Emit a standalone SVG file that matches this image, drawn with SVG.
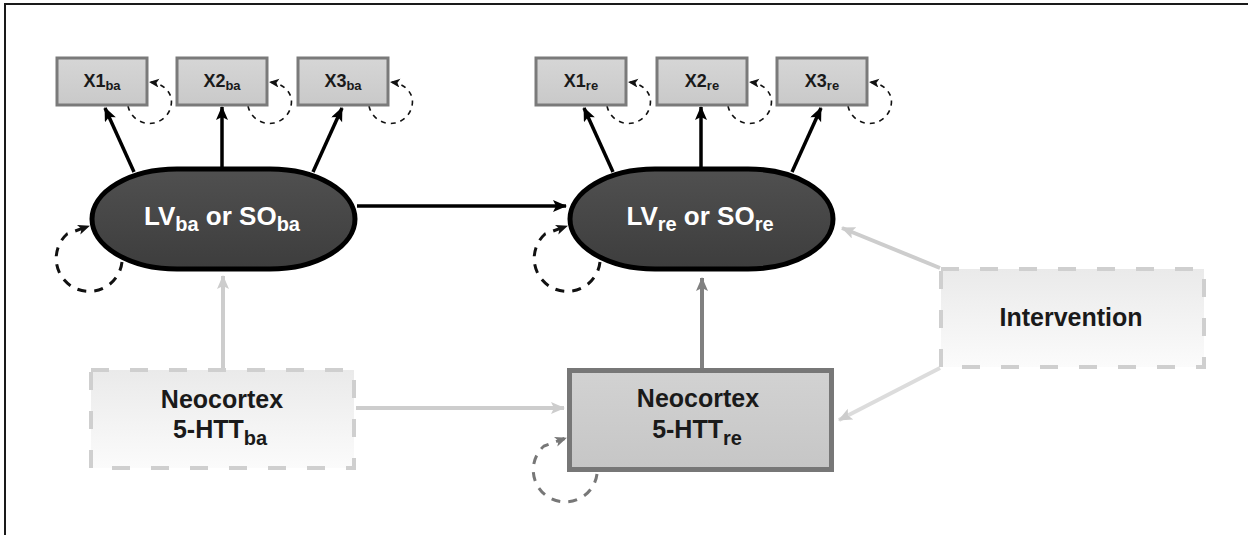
<svg xmlns="http://www.w3.org/2000/svg" width="1248" height="535" viewBox="0 0 1248 535">
<style>
text{font-family:"Liberation Sans",Arial,sans-serif;font-weight:bold;fill:#1a1a1a}
.xbox{fill:url(#gX);stroke:#7a7a7a;stroke-width:3}
.xt{font-size:18px}
.xs{font-size:13px}
.lv{fill:url(#gLV);stroke:#000;stroke-width:5}
.lvt{font-size:26px;fill:#fff}
.lvs{font-size:20px;fill:#fff}
.dbox{fill:url(#gD);stroke:#cfcfcf;stroke-width:4;stroke-dasharray:18 21}
.nt{font-size:25px}
.ns{font-size:20px}
.blk{stroke:#000;stroke-width:3.5;fill:none;marker-end:url(#aBlk)}
.lgt{stroke:#cdcdcd;stroke-width:4;fill:none;marker-end:url(#aLgt)}
.mid{stroke:#808080;stroke-width:4;fill:none;marker-end:url(#aMid)}
.loopS{stroke:#111;stroke-width:1.6;stroke-dasharray:5 5;fill:none;marker-end:url(#aSm)}
.loopL{stroke:#111;stroke-width:3;stroke-dasharray:9 8;fill:none;marker-end:url(#aLoop)}
.loopG{stroke:#777;stroke-width:3;stroke-dasharray:9 8;fill:none;marker-end:url(#aLoopG)}
</style>
<defs>
<linearGradient id="gX" x1="0" y1="0" x2="0" y2="1"><stop offset="0" stop-color="#d6d6d6"/><stop offset="1" stop-color="#c9c9c9"/></linearGradient>
<linearGradient id="gLV" x1="0" y1="0" x2="0" y2="1"><stop offset="0" stop-color="#505050"/><stop offset="1" stop-color="#3d3d3d"/></linearGradient>
<linearGradient id="gD" x1="0" y1="0" x2="0" y2="1"><stop offset="0" stop-color="#eaeaea"/><stop offset="1" stop-color="#fbfbfb"/></linearGradient>
<linearGradient id="gN" x1="0" y1="0" x2="0" y2="1"><stop offset="0" stop-color="#d2d2d2"/><stop offset="1" stop-color="#c6c6c6"/></linearGradient>
<marker id="aBlk" markerUnits="userSpaceOnUse" markerWidth="16" markerHeight="14" refX="13" refY="6" orient="auto"><path d="M0,0 L14,6 L0,12 L3,6 z" fill="#000"/></marker>
<marker id="aLgt" markerUnits="userSpaceOnUse" markerWidth="16" markerHeight="14" refX="13" refY="6" orient="auto"><path d="M0,0 L14,6 L0,12 L3,6 z" fill="#cdcdcd"/></marker>
<marker id="aMid" markerUnits="userSpaceOnUse" markerWidth="16" markerHeight="14" refX="13" refY="6" orient="auto"><path d="M0,0 L14,6 L0,12 L3,6 z" fill="#808080"/></marker>
<marker id="aSm" markerUnits="userSpaceOnUse" markerWidth="11" markerHeight="10" refX="9" refY="4.5" orient="auto"><path d="M0,0 L10,4.5 L0,9 L2.5,4.5 z" fill="#111"/></marker>
<marker id="aLoop" markerUnits="userSpaceOnUse" markerWidth="14" markerHeight="12" refX="11" refY="5" orient="auto"><path d="M0,0 L12,5 L0,10 L3,5 z" fill="#111"/></marker>
<marker id="aLoopG" markerUnits="userSpaceOnUse" markerWidth="14" markerHeight="12" refX="11" refY="5" orient="auto"><path d="M0,0 L12,5 L0,10 L3,5 z" fill="#777"/></marker>
</defs>
<rect x="0" y="0" width="1248" height="535" fill="#fff"/>
<path d="M5,540 L5,4 L1250,4" fill="none" stroke="#1a1a1a" stroke-width="2"/>

<g id="connectors">
<line class="blk" x1="134" y1="172" x2="105" y2="108"/>
<line class="blk" x1="222" y1="168" x2="222" y2="107"/>
<line class="blk" x1="313" y1="172" x2="342" y2="108"/>
<line class="blk" x1="613" y1="172" x2="584" y2="108"/>
<line class="blk" x1="701" y1="168" x2="701" y2="107"/>
<line class="blk" x1="792" y1="172" x2="821" y2="108"/>
<line class="blk" x1="357" y1="206" x2="566" y2="206"/>
<line class="lgt" x1="223" y1="369" x2="223" y2="276"/>
<line class="lgt" x1="356" y1="408" x2="564" y2="408"/>
<line class="mid" x1="702" y1="368" x2="702" y2="278"/>
<line class="lgt" x1="940" y1="268" x2="842" y2="228"/>
<line x1="940" y1="368" x2="839" y2="420" stroke="#dcdcdc" stroke-width="4" marker-end="url(#aLgt)"/>
<path class="loopS" d="M128,106 A21,21 0 1 0 171,97 Q166,84 150,82"/>
<path class="loopS" d="M248,106 A21,21 0 1 0 291,97 Q286,84 270,82"/>
<path class="loopS" d="M369,106 A21,21 0 1 0 412,97 Q407,84 391,82"/>
<path class="loopS" d="M607,106 A21,21 0 1 0 650,97 Q645,84 629,82"/>
<path class="loopS" d="M728,106 A21,21 0 1 0 771,97 Q766,84 750,82"/>
<path class="loopS" d="M848,106 A21,21 0 1 0 891,97 Q886,84 870,82"/>
<path class="loopL" d="M122,262 A33,33 0 1 1 67,234 L89,226"/>
<path class="loopL" d="M600,262 A33,33 0 1 1 545,234 L567,226"/>
<path class="loopG" d="M597,474 A32,32 0 1 1 544,446 L566,438"/>
</g>

<g id="X1ba"><rect class="xbox" x="57" y="58" width="90" height="47"/><text x="102" y="87" text-anchor="middle"><tspan class="xt">X1</tspan><tspan class="xs" dy="3">ba</tspan></text></g>
<g id="X2ba"><rect class="xbox" x="177" y="58" width="90" height="47"/><text x="222" y="87" text-anchor="middle"><tspan class="xt">X2</tspan><tspan class="xs" dy="3">ba</tspan></text></g>
<g id="X3ba"><rect class="xbox" x="298" y="58" width="90" height="47"/><text x="343" y="87" text-anchor="middle"><tspan class="xt">X3</tspan><tspan class="xs" dy="3">ba</tspan></text></g>
<g id="X1re"><rect class="xbox" x="536" y="58" width="90" height="47"/><text x="581" y="87" text-anchor="middle"><tspan class="xt">X1</tspan><tspan class="xs" dy="3">re</tspan></text></g>
<g id="X2re"><rect class="xbox" x="657" y="58" width="90" height="47"/><text x="702" y="87" text-anchor="middle"><tspan class="xt">X2</tspan><tspan class="xs" dy="3">re</tspan></text></g>
<g id="X3re"><rect class="xbox" x="777" y="58" width="90" height="47"/><text x="822" y="87" text-anchor="middle"><tspan class="xt">X3</tspan><tspan class="xs" dy="3">re</tspan></text></g>

<g id="LVba"><rect class="lv" x="92" y="169" width="263" height="100" rx="85" ry="50"/><text x="222" y="225" text-anchor="middle"><tspan class="lvt">LV</tspan><tspan class="lvs" dy="6">ba</tspan><tspan class="lvt" dy="-6"> or SO</tspan><tspan class="lvs" dy="6">ba</tspan></text></g>
<g id="LVre"><rect class="lv" x="570" y="169" width="263" height="100" rx="85" ry="50"/><text x="700" y="225" text-anchor="middle"><tspan class="lvt">LV</tspan><tspan class="lvs" dy="6">re</tspan><tspan class="lvt" dy="-6"> or SO</tspan><tspan class="lvs" dy="6">re</tspan></text></g>

<g id="NeoBa"><rect class="dbox" x="91" y="370" width="263" height="98"/><text class="nt" x="222" y="408" text-anchor="middle">Neocortex</text><text x="220" y="438" text-anchor="middle"><tspan class="nt">5-HTT</tspan><tspan class="ns" dy="7">ba</tspan></text></g>
<g id="NeoRe"><rect x="569.5" y="370.5" width="262" height="99" fill="url(#gN)" stroke="#777" stroke-width="5"/><text class="nt" x="698" y="407" text-anchor="middle">Neocortex</text><text x="697" y="438" text-anchor="middle"><tspan class="nt">5-HTT</tspan><tspan class="ns" dy="7">re</tspan></text></g>
<g id="Intervention"><rect class="dbox" x="941" y="269" width="263" height="98"/><text class="nt" x="1071" y="326" text-anchor="middle">Intervention</text></g>
</svg>
